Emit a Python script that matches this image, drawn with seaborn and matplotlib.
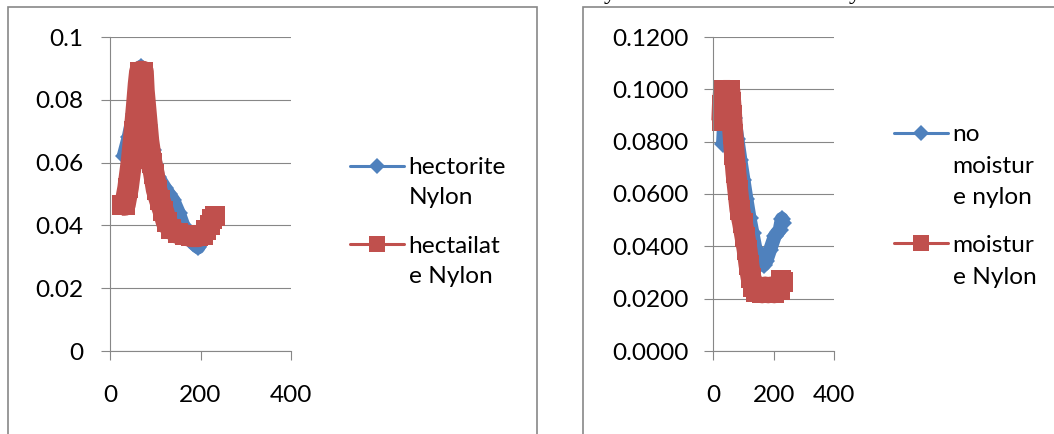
import matplotlib
matplotlib.use("Agg")
import matplotlib.pyplot as plt
import seaborn as sns
from matplotlib.lines import Line2D
from matplotlib.patches import Rectangle

# ---------------- data ----------------
hectorite_x = [30, 41, 52, 60, 65, 68, 72, 77, 86, 95, 106, 121, 130, 140, 152, 162, 172, 183, 195, 208, 218, 228]
hectorite_y = [0.062, 0.068, 0.0755, 0.082, 0.087, 0.0905, 0.087, 0.081, 0.072, 0.064, 0.0555, 0.052,
               0.050, 0.048, 0.044, 0.040, 0.037, 0.0345, 0.033, 0.0363, 0.039, 0.041]

hectailate_x = [26, 33, 40, 48, 54, 59, 63, 66, 73, 75, 80, 85, 92, 97, 103, 110, 118, 125, 135, 150,
                165, 180, 195, 205, 213, 220, 226, 231]
hectailate_y = [0.0465, 0.0465, 0.052, 0.061, 0.070, 0.078, 0.085, 0.089, 0.089, 0.083, 0.075, 0.067,
                0.060, 0.0565, 0.0513, 0.048, 0.0445, 0.041, 0.039, 0.0375, 0.037, 0.0365, 0.0365,
                0.037, 0.0385, 0.040, 0.042, 0.043]

nomoist_x = [32, 36, 42, 50, 56, 62, 70, 80, 90, 100, 110, 120, 130, 140, 150, 160, 167, 176, 188,
             204, 220, 227, 232]
nomoist_y = [0.079, 0.088, 0.095, 0.0975, 0.097, 0.095, 0.089, 0.081, 0.073, 0.0655, 0.058, 0.051,
             0.045, 0.039, 0.0355, 0.0335, 0.033, 0.0345, 0.0386, 0.044, 0.0463, 0.0505, 0.049]

moist_x = [28, 30, 34, 45, 55, 58, 61, 65, 70, 75, 81, 88, 97, 105, 112, 118, 125, 133, 142, 152,
           162, 172, 182, 192, 202, 212, 220, 226, 231]
moist_y = [0.088, 0.094, 0.0996, 0.0996, 0.0996, 0.095, 0.090, 0.083, 0.075, 0.068, 0.0615, 0.054,
           0.0488, 0.0435, 0.0386, 0.033, 0.028, 0.0245, 0.0225, 0.0245, 0.0222, 0.0245, 0.0222,
           0.0245, 0.0222, 0.0235, 0.0235, 0.027, 0.0265]

left_yticks = [0, 0.02, 0.04, 0.06, 0.08, 0.1]
left_ylabels = ["0", "0.02", "0.04", "0.06", "0.08", "0.1"]
right_yticks = [0, 0.02, 0.04, 0.06, 0.08, 0.10, 0.12]
right_ylabels = ["0.0000", "0.0200", "0.0400", "0.0600", "0.0800", "0.1000", "0.1200"]
xticks = [0, 200, 400]
xlabels = ["0", "200", "400"]
left_labels = ["hectorite\nNylon", "hectailat\ne Nylon"]
right_labels = ["no\nmoistur\ne nylon", "moistur\ne Nylon"]

# ---------------- style ----------------
sns.set_theme(style="white")
plt.rcParams["font.family"] = ["Lato", "DejaVu Sans"]

BLUE = "#4F81BD"
RED = "#C0504D"
GRAY = "#878787"
FS = 17.6

W, H = 1054, 434
fig = plt.figure(figsize=(W / 100, H / 100), dpi=100)
fig.patch.set_facecolor("white")


def px_rect(l, t, r, b):
    return [l / W, 1 - b / H, (r - l) / W, (b - t) / H]


ax1 = fig.add_axes(px_rect(110, 37, 291, 351))
ax2 = fig.add_axes(px_rect(713.3, 37, 834, 351))


def draw(ax, x, y, color, marker, ms, lw):
    n0 = len(ax.lines)
    sns.lineplot(x=x, y=y, ax=ax, color=color, marker=marker, markersize=ms,
                 linewidth=lw, markeredgewidth=0, sort=False, estimator=None,
                 legend=False)
    for ln in ax.lines[n0:]:
        ln.set_solid_joinstyle("round")
        ln.set_solid_capstyle("butt")
        ln.set_clip_on(False)


draw(ax1, hectorite_x, hectorite_y, BLUE, "D", 9.5, 10.0)
draw(ax1, hectailate_x, hectailate_y, RED, "s", 14.0, 15.5)
draw(ax2, nomoist_x, nomoist_y, BLUE, "D", 9.5, 10.0)
draw(ax2, moist_x, moist_y, RED, "s", 14.0, 15.0)

for ax, yt, yl, ymax, pad in [(ax1, left_yticks, left_ylabels, 0.1, 12.5),
                              (ax2, right_yticks, right_ylabels, 0.12, 11.5)]:
    ax.set_xlim(0, 400)
    ax.set_ylim(0, ymax)
    ax.set_xticks(xticks, xlabels)
    ax.set_yticks(yt, yl)
    ax.set_xlabel("")
    ax.set_ylabel("")
    ax.grid(False)
    ax.yaxis.grid(True, color=GRAY, linewidth=0.8)
    ax.set_axisbelow(True)
    ax.set_facecolor("none")
    for s in ["top", "right"]:
        ax.spines[s].set_visible(False)
    for s in ["left", "bottom"]:
        ax.spines[s].set_color(GRAY)
        ax.spines[s].set_linewidth(0.8)
    ax.tick_params(axis="both", which="major", direction="out", length=6.5, width=0.8,
                   color=GRAY, labelsize=FS, labelcolor="black")
    ax.tick_params(axis="y", pad=pad, left=True)
    ax.tick_params(axis="x", pad=18, bottom=True)


def handles():
    h1 = Line2D([], [], color=BLUE, lw=2.2, marker="D", markersize=8.3,
                markeredgewidth=0, solid_capstyle="round")
    h2 = Line2D([], [], color=RED, lw=2.2, marker="s", markersize=12,
                markeredgewidth=0, solid_capstyle="round")
    return [h1, h2]


def make_legend(ax, labels, x, y, ls, lsp):
    leg = ax.legend(handles(), labels, loc="upper left", bbox_to_anchor=(x / W, 1 - y / H),
                    bbox_transform=fig.transFigure, frameon=False, borderpad=0,
                    borderaxespad=0, handlelength=2.2, handletextpad=0.2,
                    labelspacing=lsp, fontsize=FS)
    for t in leg.get_texts():
        t.set_linespacing(ls)
        t.set_color("black")
    box = getattr(leg, "_legend_handle_box", None)
    if box is not None:
        for col in box.get_children():
            for item in col.get_children():
                item.align = "top"
    return leg


make_legend(ax1, left_labels, 350, 157, 1.55, 1.12)
make_legend(ax2, right_labels, 894, 124, 1.63, 1.08)

# chart-area frames (cut by the picture edges)
fig.add_artist(Rectangle((8 / W, -0.1), (536.7 - 8) / W, 1.1 - 7 / H, transform=fig.transFigure,
                         fill=False, edgecolor=GRAY, linewidth=1.2))
fig.add_artist(Rectangle((583.3 / W, -0.1), 1.2, 1.1 - 7 / H, transform=fig.transFigure,
                         fill=False, edgecolor=GRAY, linewidth=1.2))

# descenders of a caption line cut by the top edge (as in the reference)
for xc in [610, 855]:
    fig.text(xc / W, 1 + 1.5 / H, "y", ha="center", va="baseline", fontsize=18,
             family=["Liberation Serif", "DejaVu Serif"], color="black")

fig.savefig("out.png", dpi=100)
